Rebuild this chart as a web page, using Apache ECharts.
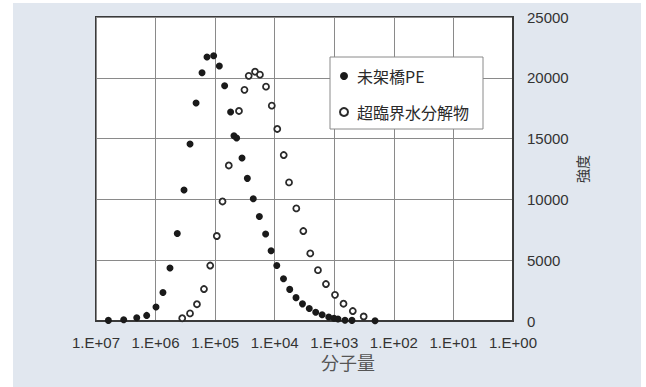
<!DOCTYPE html>
<html>
<head>
<meta charset="utf-8">
<script src="https://cdn.jsdelivr.net/npm/echarts@6/dist/echarts.min.js"></script>
<style>html,body{margin:0;padding:0;background:#fff}#c{width:646px;height:387px}</style>
</head>
<body>
<div id="c"></div>
<script>
// 未架橋PE: molecular weight, intensity
const mwPE = [6.2e6, 3.43e6, 2.07e6, 1.41e6, 9.84e5, 7.52e5, 5.73e5, 4.32e5, 3.33e5, 2.64e5, 2.09e5, 1.66e5, 1.37e5, 1.06e5, 8.51e4, 6.93e4, 5.50e4, 4.83e4, 4.36e4, 3.54e4, 2.88e4, 2.29e4, 1.81e4, 1.42e4, 1.15e4, 9230, 7120, 5600, 4390, 3420, 2630, 2050, 1600, 1240, 1010, 867, 661, 505, 207];
const intPE = [50, 107, 270, 460, 1150, 2350, 4360, 7200, 10770, 14560, 17930, 20420, 21710, 21820, 20970, 19350, 17190, 15240, 15050, 13400, 11730, 10060, 8600, 7150, 5780, 4570, 3480, 2600, 1920, 1410, 1030, 720, 520, 330, 230, 170, 66, 50, 25];
// 超臨界水分解物
const mwSCW = [3.57e5, 2.64e5, 2.02e5, 1.54e5, 1.21e5, 9.38e4, 7.52e4, 5.90e4, 3.98e4, 3.22e4, 2.73e4, 2.14e4, 1.77e4, 1.40e4, 1.12e4, 9060, 7060, 5750, 4340, 3310, 2530, 1880, 1380, 973, 700, 489, 321];
const intSCW = [230, 625, 1380, 2630, 4560, 6990, 9830, 12790, 17270, 19010, 20160, 20500, 20260, 19270, 17710, 15790, 13650, 11400, 9260, 7400, 5560, 4180, 3040, 2150, 1420, 820, 370];
const seriesNames = ['未架橋PE', '超臨界水分解物'];
const xAxisName = '分子量';
const yAxisName = '強度';

const FONT = "'Liberation Sans', Arial, 'Noto Sans CJK JP', sans-serif";
const chart = echarts.init(document.getElementById('c'), null, {renderer: 'svg'});
chart.setOption({
  backgroundColor: '#ffffff',
  animation: false,
  textStyle: {fontFamily: FONT},
  graphic: [{
    type: 'rect', z: -10, silent: true,
    shape: {x: 13, y: 3, width: 628, height: 384},
    style: {fill: '#e1e7ef'}
  }],
  grid: {
    left: 96, right: 133, top: 17, bottom: 66,
    show: true, backgroundColor: '#ffffff', borderColor: '#3a3a3a', borderWidth: 2
  },
  legend: {
    orient: 'vertical', left: 330, top: 57,
    backgroundColor: '#ffffff', borderColor: '#8a8a8a', borderWidth: 1,
    padding: [11, 14, 9, 9], itemGap: 20, itemWidth: 8, itemHeight: 8,
    textStyle: {fontSize: 16, color: '#2a2a2a', fontFamily: "'Noto Sans CJK JP', sans-serif", padding: [0, 0, 0, 4]},
    data: seriesNames
  },
  xAxis: {
    type: 'log', logBase: 10, min: 1, max: 1e7, inverse: true, splitNumber: 7,
    name: xAxisName, nameLocation: 'middle', nameGap: 32, nameMoveOverlap: false,
    nameTextStyle: {fontSize: 18, color: '#555', fontFamily: "'Noto Sans CJK JP', sans-serif", padding: [0, 0, 0, 87]},
    axisLine: {show: true, lineStyle: {color: '#3a3a3a', width: 2}},
    axisTick: {show: false},
    splitLine: {show: true, lineStyle: {color: '#8a8a8a', width: 1}},
    axisLabel: {
      fontSize: 15, color: '#333', margin: 14,
      formatter: v => { const e = Math.round(Math.log10(v)); return '1.E+' + (e < 10 ? '0' + e : e); }
    }
  },
  yAxis: {
    type: 'value', position: 'right', min: 0, max: 25000, interval: 5000,
    name: yAxisName, nameLocation: 'middle', nameGap: 62, nameRotate: 90, nameMoveOverlap: false,
    nameTextStyle: {fontSize: 14, color: '#333', fontFamily: "'Noto Sans CJK JP', sans-serif"},
    axisLine: {show: true, lineStyle: {color: '#3a3a3a', width: 2}},
    axisTick: {show: false},
    splitLine: {show: true, lineStyle: {color: '#8a8a8a', width: 1}},
    axisLabel: {fontSize: 15, color: '#333', margin: 14, formatter: v => String(v)}
  },
  series: [{
    name: seriesNames[0], type: 'scatter', symbol: 'circle', symbolSize: 7,
    itemStyle: {color: '#1a1a1a', opacity: 1},
    data: mwPE.map((m, i) => [m, intPE[i]])
  }, {
    name: seriesNames[1], type: 'scatter', symbol: 'circle', symbolSize: 6,
    itemStyle: {color: '#ffffff', borderColor: '#2a2a2a', borderWidth: 1.8, opacity: 1},
    data: mwSCW.map((m, i) => [m, intSCW[i]])
  }]
});
</script>
</body>
</html>
